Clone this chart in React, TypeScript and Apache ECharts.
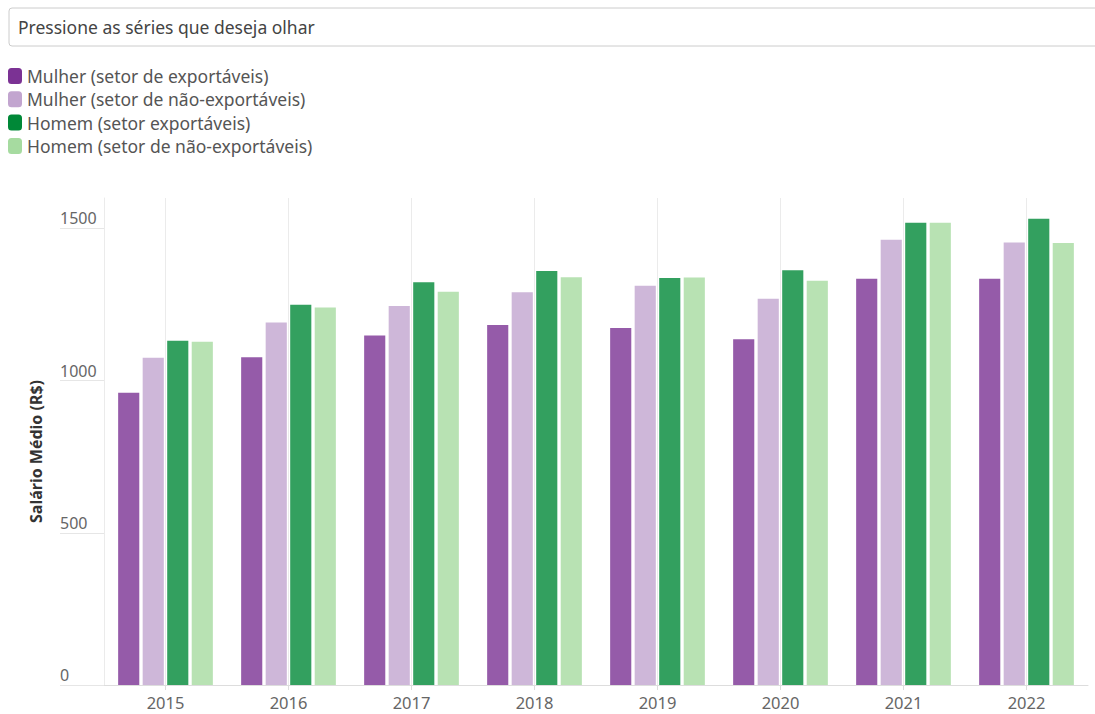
import React, { useEffect, useRef } from "react";
import * as echarts from "echarts";

const categories = ["2015", "2016", "2017", "2018", "2019", "2020", "2021", "2022"];
const seriesNames = [
  "Mulher (setor de exportáveis)",
  "Mulher (setor de não-exportáveis)",
  "Homem (setor exportáveis)",
  "Homem (setor de não-exportáveis)",
];
const mulherExport = [960, 1077, 1148, 1183, 1173, 1136, 1335, 1335];
const mulherNaoExport = [1075, 1191, 1245, 1290, 1312, 1269, 1463, 1454];
const homemExport = [1131, 1249, 1323, 1360, 1337, 1363, 1519, 1532];
const homemNaoExport = [1128, 1240, 1292, 1340, 1339, 1328, 1519, 1452];
const yTicks = [0, 500, 1000, 1500];

const legendColors = ["#7b3294", "#c2a5cf", "#008837", "#a6dba0"];
const barColors = ["#955ba9", "#ceb7d9", "#33a05f", "#b8e2b3"];

const FONT = "'Noto Sans', sans-serif";

export default function App() {
  const ref = useRef<HTMLDivElement>(null);
  useEffect(() => {
    if (!ref.current) return;
    const chart = echarts.init(ref.current, null, { renderer: "svg" });
    const values = [mulherExport, mulherNaoExport, homemExport, homemNaoExport];
    chart.setOption({
      animation: false,
      textStyle: { fontFamily: FONT },
      graphic: [
        {
          type: "rect",
          shape: { x: 9, y: 8, width: 1100, height: 38, r: 3 },
          style: { fill: "#fff", stroke: "#cccccc", lineWidth: 1 },
        },
        {
          type: "text",
          x: 18,
          y: 27,
          style: {
            text: "Pressione as séries que deseja olhar",
            fontFamily: FONT,
            fontSize: 17.5,
            fill: "#444",
            verticalAlign: "middle",
          },
        },
      ],
      legend: {
        orient: "vertical",
        left: 8,
        top: 67,
        padding: 0,
        itemWidth: 14,
        itemHeight: 16,
        itemGap: 5.3,
        icon: "roundRect",
        textStyle: { fontFamily: FONT, fontSize: 17.5, lineHeight: 16, color: "#555" },
        data: seriesNames.map((n, i) => ({
          name: n,
          itemStyle: { color: legendColors[i], opacity: 1 },
        })),
        selectedMode: true,
      },
      grid: { left: 104, right: 7, top: 198, bottom: 29 },
      xAxis: {
        type: "category",
        data: categories,
        axisLine: { show: true, lineStyle: { color: "#dddddd" } },
        axisTick: { show: true, alignWithLabel: true, length: 5, lineStyle: { color: "#dddddd" } },
        axisLabel: { fontFamily: FONT, fontSize: 16.5, color: "#666", margin: 9 },
        splitLine: { show: true, alignWithLabel: true, lineStyle: { color: "#ebebeb" } },
      },
      yAxis: {
        type: "value",
        min: 0,
        max: 1600,
        interval: 500,
        name: "Salário Médio (R$)",
        nameLocation: "middle",
        nameGap: 60,
        nameTextStyle: { fontFamily: FONT, fontSize: 16, fontWeight: "bold", color: "#333", padding: [0, 0, 0, -20] },
        axisLine: { show: true, lineStyle: { color: "#ebebeb" } },
        axisTick: { show: true, length: 44, customValues: yTicks, lineStyle: { color: "#e6e6e6" } },
        axisLabel: {
          customValues: yTicks,
          formatter: (v: number) => String(v),
          fontFamily: FONT,
          fontSize: 16,
          color: "#666",
          align: "left",
          margin: 44,
          verticalAlign: "bottom",
          padding: [0, 0, 2, 0],
        },
        splitLine: { show: false },
      },
      series: seriesNames.map((n, i) => ({
        name: n,
        type: "bar",
        data: values[i],
        barCategoryGap: "23%",
        barGap: "16%",
        itemStyle: { color: barColors[i] },
      })),
    });
    return () => chart.dispose();
  }, []);
  return <div ref={ref} style={{ width: 1095, height: 714, position: "absolute", left: 0, top: 0 }} />;
}
